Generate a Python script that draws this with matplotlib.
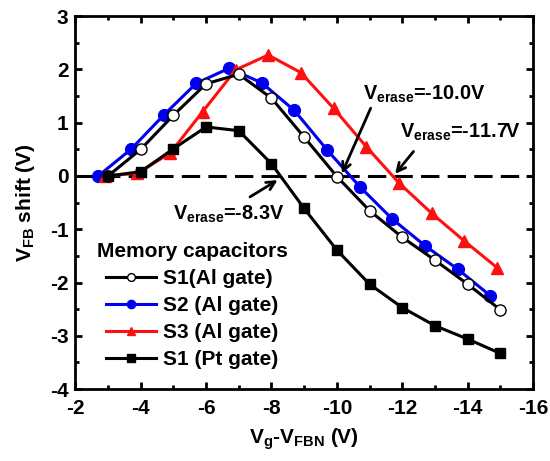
import numpy as np
import matplotlib.pyplot as plt
from matplotlib.ticker import MultipleLocator

plt.rcParams['font.family'] = ['Liberation Sans', 'DejaVu Sans']
plt.rcParams['font.weight'] = 'bold'
plt.rcParams['axes.unicode_minus'] = False
plt.rcParams['mathtext.fontset'] = 'custom'
plt.rcParams['mathtext.rm'] = 'Liberation Sans:bold'
plt.rcParams['mathtext.it'] = 'Liberation Sans:bold'
plt.rcParams['mathtext.bf'] = 'Liberation Sans:bold'

# S1 (Al gate) - open circles
x_s1 = [-3, -4, -5, -6, -7, -8, -9, -10, -11, -12, -13, -14, -15]
y_s1 = [0.0, 0.50, 1.14, 1.73, 1.91, 1.46, 0.73, -0.01, -0.65, -1.15, -1.58, -2.03, -2.51]

# S2 (Al gate) - blue circles
x_s2 = [-2.7, -3.7, -4.7, -5.7, -6.7, -7.7, -8.7, -9.7, -10.7, -11.7, -12.7, -13.7, -14.7]
y_s2 = [0.0, 0.50, 1.14, 1.74, 2.02, 1.75, 1.23, 0.49, -0.20, -0.81, -1.31, -1.75, -2.25]

# S3 (Al gate) - red triangles
x_s3 = [-2.9, -3.9, -4.9, -5.9, -6.9, -7.9, -8.9, -9.9, -10.9, -11.9, -12.9, -13.9, -14.9]
y_s3 = [0.0, 0.05, 0.43, 1.21, 1.99, 2.27, 1.94, 1.27, 0.55, -0.13, -0.70, -1.22, -1.72]

# S1 (Pt gate) - black squares
x_pt = [-3, -4, -5, -6, -7, -8, -9, -10, -11, -12, -13, -14, -15]
y_pt = [0.0, 0.08, 0.51, 0.92, 0.85, 0.23, -0.61, -1.39, -2.03, -2.47, -2.81, -3.06, -3.33]

fig = plt.figure(figsize=(5.5, 4.61), dpi=100)
ax = fig.add_axes([0.137, 0.156, 0.832, 0.809])

ax.axhline(0, color='black', lw=2.2, ls=(0, (6, 2.7)), zorder=1)

lw = 2.2
ax.plot(x_s1, y_s1, '-o', color='black', lw=lw, ms=8, mfc='white', mec='black', mew=1.0,
        label='S1(Al gate)', zorder=3)
ax.plot(x_s2, y_s2, '-o', color='#0000ee', lw=lw, ms=8.5, label='S2 (Al gate)', zorder=2)
ax.plot(x_s3, y_s3, '-^', color='#ff1010', lw=lw, ms=9, label='S3 (Al gate)', zorder=2)
ax.plot(x_pt, y_pt, '-s', color='black', lw=lw, ms=7.5, label='S1 (Pt gate)', zorder=4)

ax.set_xlim(-2, -16)
ax.set_ylim(-4, 3)
ax.xaxis.set_major_locator(MultipleLocator(2))
ax.xaxis.set_minor_locator(MultipleLocator(1))
ax.yaxis.set_major_locator(MultipleLocator(1))
ax.yaxis.set_minor_locator(MultipleLocator(0.5))
ax.tick_params(which='both', direction='in', top=True, right=True, width=2, labelsize=15)
ax.tick_params(which='major', length=5)
ax.tick_params(which='minor', length=3)
ax.tick_params(axis='x', pad=7)
ax.tick_params(axis='y', pad=5)
for s in ax.spines.values():
    s.set_linewidth(2)

ax.set_xlabel(r'$\mathrm{V_{g}}$-$\mathrm{V_{FBN}}$ (V)', fontsize=15, fontweight='bold', labelpad=6)
ax.set_ylabel(r'$\mathrm{V_{FB}}$ shift (V)', fontsize=15, fontweight='bold', labelpad=9)

arrow = dict(arrowstyle='->', color='black', lw=2, mutation_scale=15)
ax.annotate('', xy=(-10.12, 0.0), xytext=(-11.07, 1.32), arrowprops=dict(arrow))
ax.annotate('', xy=(-11.73, 0.0), xytext=(-12.4, 0.5), arrowprops=dict(arrow))
ax.annotate('', xy=(-8.26, -0.05), xytext=(-7.27, -0.42), arrowprops=dict(arrow))

ax.text(-10.8, 1.43, r'$\mathrm{V_{erase}}$=-10.0V', fontsize=14.3, fontweight='bold',
        ha='left', va='baseline')
ax.text(-11.94, 0.71, r'$\mathrm{V_{erase}}$=-11.7V', fontsize=14.3, fontweight='bold',
        ha='left', va='baseline')
ax.text(-4.98, -0.83, r'$\mathrm{V_{erase}}$=-8.3V', fontsize=14.3, fontweight='bold',
        ha='left', va='baseline')

leg = ax.legend(loc='lower left', bbox_to_anchor=(0.015, 0.015), frameon=False,
                title='Memory capacitors', fontsize=15, title_fontsize=15,
                handlelength=2.4, handletextpad=0.3, labelspacing=0.38, markerscale=0.7,
                borderaxespad=0.3)
leg.get_title().set_fontweight('bold')

fig.savefig('out.png', dpi=100)
